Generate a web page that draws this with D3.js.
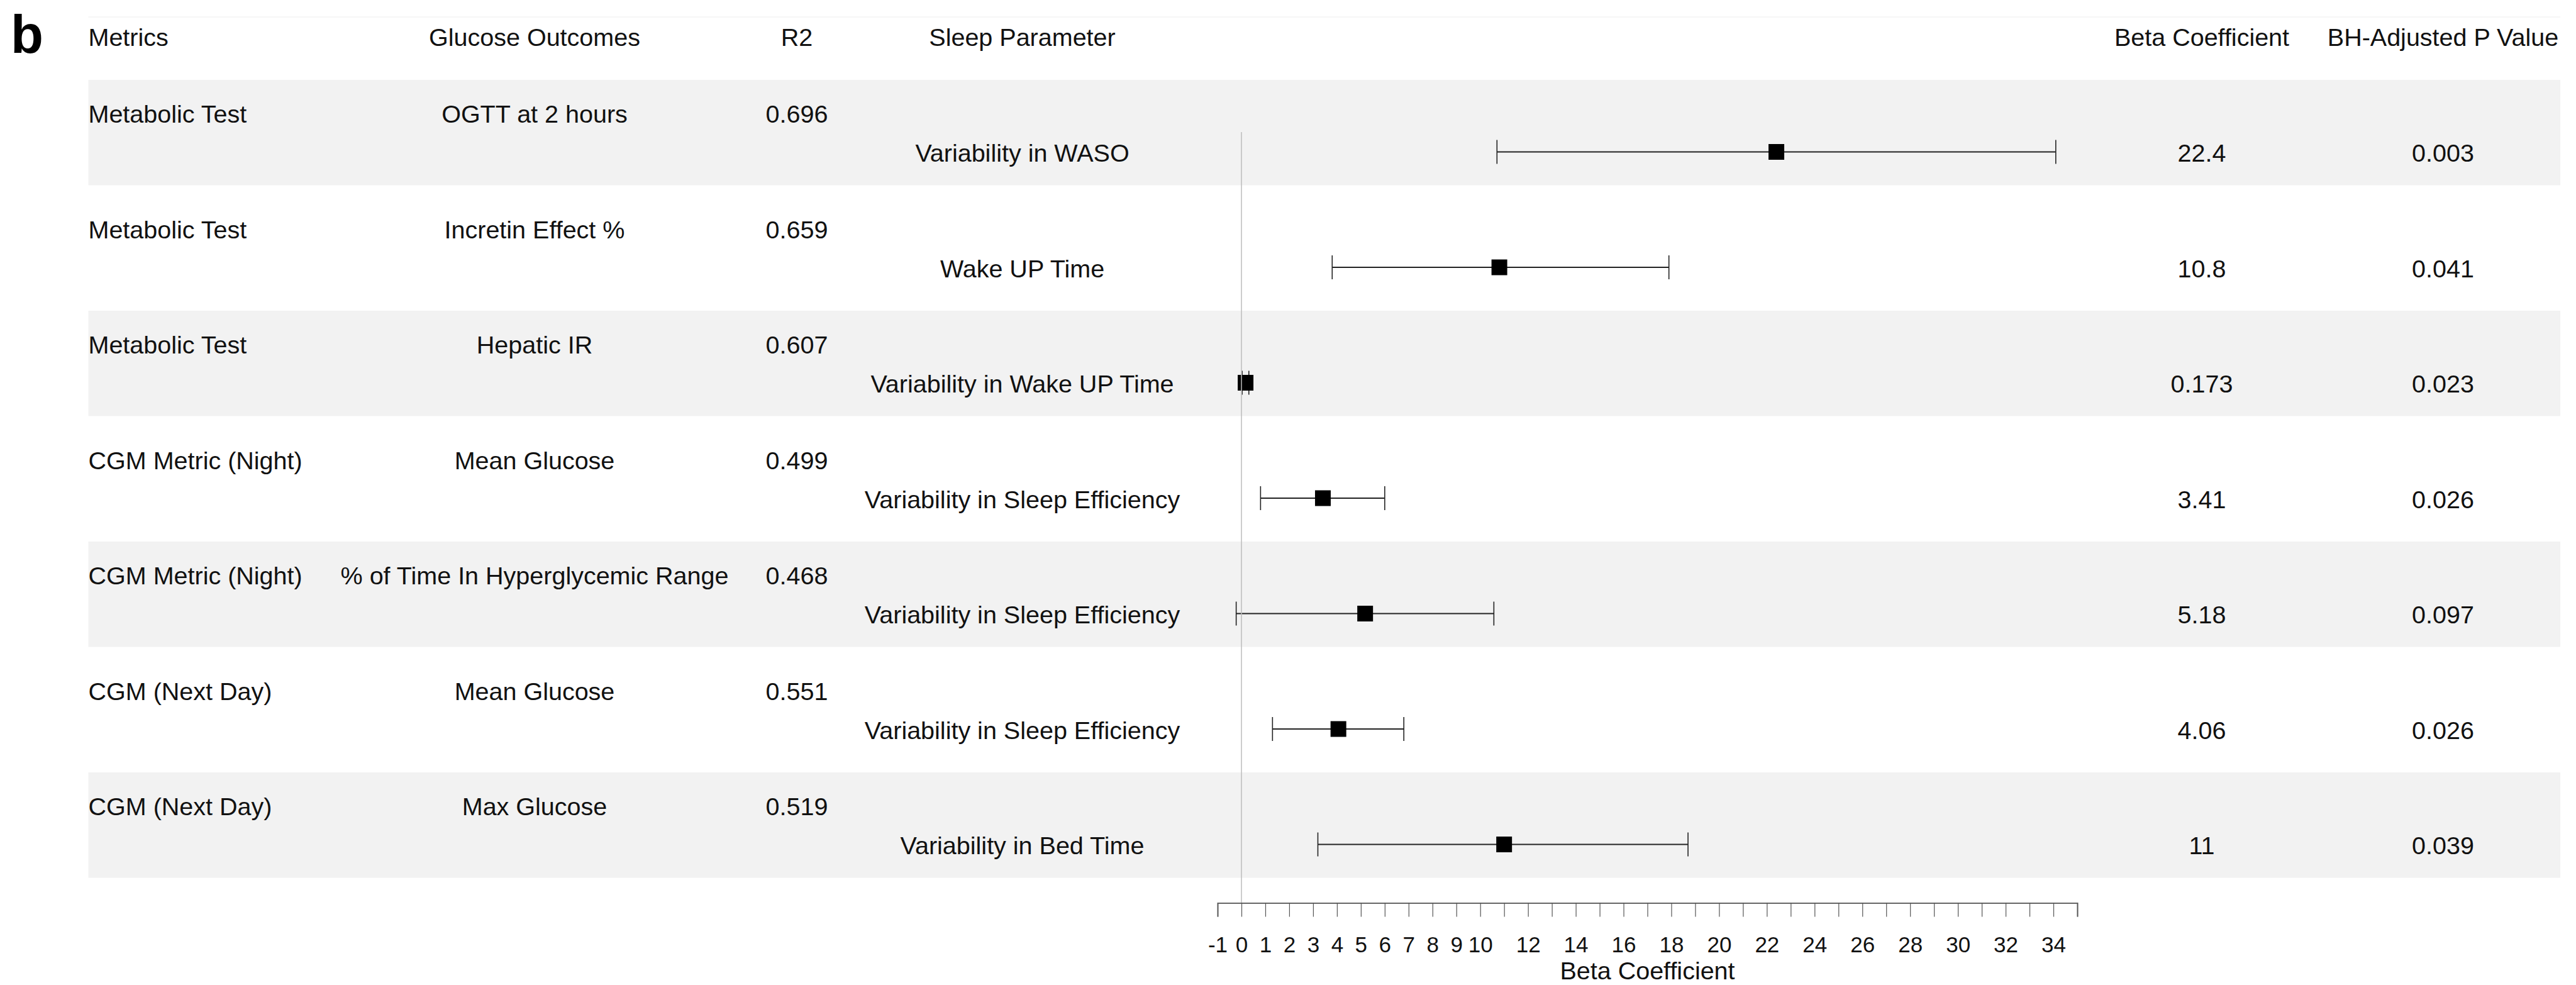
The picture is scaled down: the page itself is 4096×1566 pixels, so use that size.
<!DOCTYPE html>
<html>
<head>
<meta charset="utf-8">
<script src="https://cdn.jsdelivr.net/npm/d3@7"></script>
<style>
  html, body { margin: 0; padding: 0; background: #fff; }
  svg { display: block; }
  text { font-family: "Liberation Sans", Arial, sans-serif; fill: #111; }
</style>
</head>
<body>
<svg id="chart" width="4096" height="1566"></svg>
<script>
// table data
const headers = ["Metrics", "Glucose Outcomes", "R2", "Sleep Parameter", "Beta Coefficient", "BH-Adjusted P Value"];
const metrics = ["Metabolic Test", "Metabolic Test", "Metabolic Test", "CGM Metric (Night)", "CGM Metric (Night)", "CGM (Next Day)", "CGM (Next Day)"];
const outcomes = ["OGTT at 2 hours", "Incretin Effect %", "Hepatic IR", "Mean Glucose", "% of Time In Hyperglycemic Range", "Mean Glucose", "Max Glucose"];
const r2 = [0.696, 0.659, 0.607, 0.499, 0.468, 0.551, 0.519];
const sleepParams = ["Variability in WASO", "Wake UP Time", "Variability in Wake UP Time", "Variability in Sleep Efficiency", "Variability in Sleep Efficiency", "Variability in Sleep Efficiency", "Variability in Bed Time"];
const beta = [22.4, 10.8, 0.173, 3.41, 5.18, 4.06, 11];
const lower = [10.7, 3.8, 0.03, 0.8, -0.22, 1.3, 3.2];
const upper = [34.1, 17.9, 0.31, 6.0, 10.57, 6.8, 18.7];
const pAdj = [0.003, 0.041, 0.023, 0.026, 0.097, 0.026, 0.039];
const tickValues = d3.range(-1, 36);
const labelledTicks = d3.range(-1, 11).concat(d3.range(12, 35, 2));

const svg = d3.select("#chart");
const fontSize = 39.5;

const bandLeft = 140.5, bandRight = 4071;
const headerY = 72.7;
const rowY = d3.scaleLinear().domain([0, 1]).range([195, 378.5]); // baseline of left cells
const axisY = 1435.5;

// column centres
const colX = { outcome: 850, r2: 1267, sleep: 1625.5, beta: 3501, p: 3884.5 };

const x = d3.scaleLinear().domain([-1, 35]).range([1936, 3303]);

const rows = metrics.map((m, i) => ({
    i, metric: m, outcome: outcomes[i], r2: r2[i], sleep: sleepParams[i],
    beta: beta[i], lo: lower[i], hi: upper[i], p: pAdj[i]
}));

// faint top rule
svg.append("line")
    .attr("x1", bandLeft).attr("x2", bandRight)
    .attr("y1", 27).attr("y2", 27)
    .attr("stroke", "#f3f3f3").attr("stroke-width", 1.5);

// striped row backgrounds
svg.selectAll(".band")
    .data(rows.filter(d => d.i % 2 === 0))
    .enter().append("rect")
    .attr("class", "band")
    .attr("x", bandLeft)
    .attr("width", bandRight - bandLeft)
    .attr("y", d => rowY(d.i) - 68)
    .attr("height", 167.5)
    .attr("fill", "#f2f2f2");

// panel letter
svg.append("text")
    .attr("x", 17).attr("y", 84)
    .style("font-size", "85px").style("font-weight", "bold")
    .style("fill", "#000")
    .text("b");

// header
const headerPos = [
    { x: bandLeft, anchor: "start" },
    { x: colX.outcome, anchor: "middle" },
    { x: colX.r2, anchor: "middle" },
    { x: colX.sleep, anchor: "middle" },
    { x: colX.beta, anchor: "middle" },
    { x: colX.p, anchor: "middle" }
];
svg.selectAll(".header")
    .data(headers)
    .enter().append("text")
    .attr("class", "header")
    .attr("x", (d, i) => headerPos[i].x)
    .attr("y", headerY)
    .attr("text-anchor", (d, i) => headerPos[i].anchor)
    .style("font-size", fontSize + "px")
    .text(d => d);

// row cells
const row = svg.selectAll(".row")
    .data(rows)
    .enter().append("g")
    .attr("class", "row")
    .attr("transform", d => `translate(0, ${rowY(d.i)})`);

function cell(sel, xPos, dy, anchor, fn) {
    sel.append("text")
        .attr("x", xPos).attr("y", dy)
        .attr("text-anchor", anchor)
        .style("font-size", fontSize + "px")
        .text(fn);
}
cell(row, bandLeft, 0, "start", d => d.metric);
cell(row, colX.outcome, 0, "middle", d => d.outcome);
cell(row, colX.r2, 0, "middle", d => d.r2);
cell(row, colX.sleep, 62, "middle", d => d.sleep);
cell(row, colX.beta, 62, "middle", d => d.beta);
cell(row, colX.p, 62, "middle", d => d.p);

// reference line at zero
svg.append("line")
    .attr("x1", x(0)).attr("x2", x(0))
    .attr("y1", 210).attr("y2", axisY)
    .attr("stroke", "#bdbdbd").attr("stroke-width", 1.5);

// error bars
const barDy = 46.5, capH = 38, sq = 25;
const ci = row.append("g").attr("transform", `translate(0, ${barDy})`);
ci.append("line")
    .attr("x1", d => x(d.lo)).attr("x2", d => x(d.hi))
    .attr("y1", 0).attr("y2", 0)
    .attr("stroke", "#222").attr("stroke-width", 1.8);
ci.append("line")
    .attr("x1", d => x(d.lo)).attr("x2", d => x(d.lo))
    .attr("y1", -capH / 2).attr("y2", capH / 2)
    .attr("stroke", "#222").attr("stroke-width", 1.6);
ci.append("line")
    .attr("x1", d => x(d.hi)).attr("x2", d => x(d.hi))
    .attr("y1", -capH / 2).attr("y2", capH / 2)
    .attr("stroke", "#222").attr("stroke-width", 1.6);
ci.append("rect")
    .attr("x", d => x(d.beta) - sq / 2)
    .attr("y", -sq / 2)
    .attr("width", sq).attr("height", sq)
    .attr("fill", "#000");

// x axis
const axis = d3.axisBottom(x)
    .tickValues(tickValues)
    .tickSize(22)
    .tickFormat(d => labelledTicks.includes(d) ? d : "");
const ax = svg.append("g")
    .attr("transform", `translate(0, ${axisY})`)
    .call(axis);
ax.select(".domain").attr("stroke", "#666").attr("stroke-width", 2);
ax.selectAll(".tick line").attr("stroke", "#555").attr("stroke-width", 1.2);
ax.selectAll(".tick text")
    .attr("y", 78).attr("dy", 0)
    .style("font-size", "35px")
    .style("font-family", '"Liberation Sans", Arial, sans-serif')
    .style("fill", "#111");

svg.append("text")
    .attr("x", (x(-1) + x(35)) / 2)
    .attr("y", 1557)
    .attr("text-anchor", "middle")
    .style("font-size", fontSize + "px")
    .text("Beta Coefficient");
</script>
</body>
</html>
